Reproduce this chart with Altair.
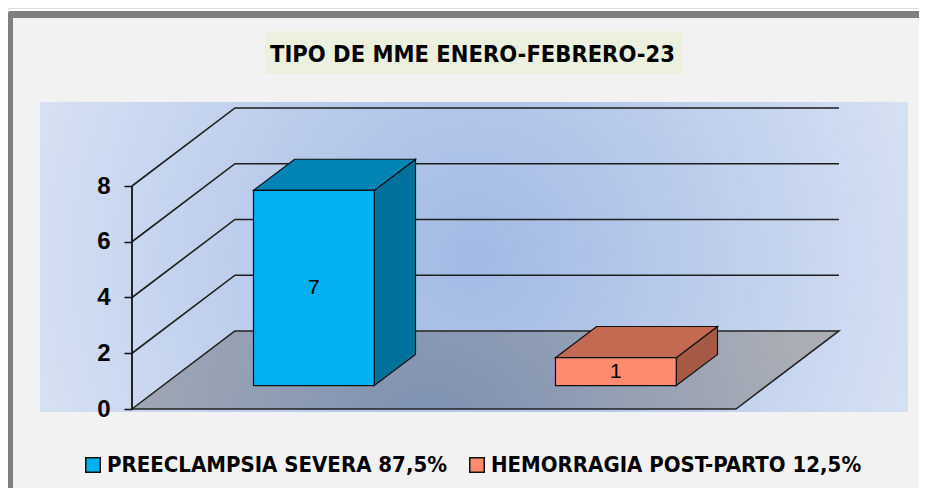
import altair as alt
import pandas as pd

# ---------------- data ----------------
categories = ["PREECLAMPSIA SEVERA 87,5%", "HEMORRAGIA POST-PARTO 12,5%"]
values = [7, 1]
value_labels = ["7", "1"]
front_colors = ["#00b0f0", "#ff8b6f"]
top_colors = ["#0085b5", "#c46a53"]
side_colors = ["#00719b", "#a65a46"]
y_ticks = [0, 2, 4, 6, 8]
grid_levels = [2, 4, 6, 8]
title_text = "TIPO DE MME ENERO-FEBRERO-23"

# ---------------- layout / projection ----------------
W, H = 911, 480
KU = 0.341      # x shift (category units) for full depth
KV = 2.80       # y shift (value units) for full depth
HALF = 0.2      # half bar width (category units)
D0, D1 = 0.3, 0.7   # bar depth span
PX_PER_UNIT = 27.875
X_DOM = [-0.4106, 2.606]
Y_DOM = [(401 - H) / PX_PER_UNIT, 401 / PX_PER_UNIT]
NARROW = "Liberation Sans Narrow, DejaVu Sans Condensed, sans-serif"

xs = alt.Scale(domain=X_DOM, nice=False, zero=False)
ys = alt.Scale(domain=Y_DOM, nice=False, zero=False)
yaxis = alt.Axis(values=y_ticks, offset=-124, domain=False, grid=False, ticks=True,
                 tickSize=8, tickColor="#111", tickWidth=1.5, labelPadding=14,
                 labelFont="Liberation Sans, Arial, sans-serif", labelFontSize=24,
                 labelFontWeight="bold", labelColor="black", title=None, zindex=1)


def X(f):
    return alt.X(f, type="quantitative", scale=xs, axis=None)


def Y(f):
    return alt.Y(f, type="quantitative", scale=ys, axis=yaxis)


# front faces
front_rows, top_rows, side_rows = [], [], []
for i, (c, v) in enumerate(zip(categories, values)):
    cx = i + 0.5
    front_rows.append(dict(cat=c, x=cx - HALF + D0 * KU, x2=cx + HALF + D0 * KU,
                           y=D0 * KV, y2=v + D0 * KV,
                           xm=cx + D0 * KU, ym=v / 2 + D0 * KV, lab=value_labels[i]))
    for d in (D0, D1):
        top_rows.append(dict(cat=c, col=top_colors[i], yy=v + d * KV,
                             x=cx - HALF + d * KU, x2=cx + HALF + d * KU))
        side_rows.append(dict(cat=c, col=side_colors[i], xx=cx + HALF + d * KU,
                              y=d * KV, y2=v + d * KV))
front = pd.DataFrame(front_rows)
top = pd.DataFrame(top_rows)
side = pd.DataFrame(side_rows)

n = len(categories)
floor = pd.DataFrame([dict(yy=0.0, x=0.0, x2=float(n)),
                      dict(yy=KV, x=KU, x2=n + KU)])

grid_rows = []
for g in grid_levels:
    grid_rows += [dict(g=g, o=0, x=0.0, y=g), dict(g=g, o=1, x=KU, y=g + KV),
                  dict(g=g, o=2, x=n + KU, y=g + KV)]
grid = pd.DataFrame(grid_rows)

axisline = pd.DataFrame([dict(x=0.0, y=min(y_ticks), y2=max(y_ticks))])

# ---------------- decoration ----------------
one = pd.DataFrame({"a": [0]})
inner = alt.Chart(one).mark_rect(color="#f2f2f2").encode(
    x=alt.value(5), x2=alt.value(W), y=alt.value(10), y2=alt.value(H))
frame_top = alt.Chart(one).mark_rect(color="#7f7f7f", cornerRadiusTopLeft=3).encode(
    x=alt.value(0), x2=alt.value(W), y=alt.value(3), y2=alt.value(10))
frame_left = alt.Chart(one).mark_rect(color="#7f7f7f", cornerRadiusTopLeft=3).encode(
    x=alt.value(0), x2=alt.value(5), y=alt.value(3), y2=alt.value(H))
plot_bg = alt.Chart(one).mark_rect(color={
    "gradient": "radial", "x1": 0.5, "y1": 0.5, "r1": 0, "x2": 0.5, "y2": 0.5, "r2": 0.62,
    "stops": [{"offset": 0, "color": "#a1b9e4"}, {"offset": 1, "color": "#dfe7f5"}]}).encode(
    x=alt.value(32), x2=alt.value(900), y=alt.value(94), y2=alt.value(404))
title_bg = alt.Chart(one).mark_rect(color="#ebf1de").encode(
    x=alt.value(257), x2=alt.value(674), y=alt.value(23), y2=alt.value(66))

# ---------------- 3D scene ----------------
floor_l = alt.Chart(floor).mark_area(orient="horizontal", stroke="#222", strokeWidth=1.5, color={
    "gradient": "radial", "x1": 0.42, "y1": 0.6, "r1": 0, "x2": 0.42, "y2": 0.6, "r2": 0.55,
    "stops": [{"offset": 0, "color": "#7c90b2"}, {"offset": 1, "color": "#abaeb5"}]}).encode(
    y=Y("yy"), x=X("x"), x2="x2")

grid_l = alt.Chart(grid).mark_line(color="#1e1e1e", strokeWidth=1.6).encode(
    x=X("x"), y=Y("y"), detail="g:N", order="o:Q")

axis_l = alt.Chart(axisline).mark_rule(color="#111", strokeWidth=1.8).encode(
    x=X("x"), y=Y("y"), y2="y2")

side_l = alt.Chart(side).mark_area(orient="vertical", stroke="#111", strokeWidth=1.2).encode(
    x=X("xx"), y=Y("y"), y2="y2", detail="cat:N", color=alt.Color("col:N", scale=None))

top_l = alt.Chart(top).mark_area(orient="horizontal", stroke="#111", strokeWidth=1.2).encode(
    y=Y("yy"), x=X("x"), x2="x2", detail="cat:N", color=alt.Color("col:N", scale=None))

front_l = alt.Chart(front).mark_rect(stroke="#111", strokeWidth=1.2, opacity=1).encode(
    x=X("x"), x2="x2", y=Y("y"), y2="y2",
    color=alt.Color("cat:N", scale=alt.Scale(domain=categories, range=front_colors),
                    legend=alt.Legend(orient="none", legendX=74, legendY=446,
                                      direction="horizontal", title=None,
                                      symbolType="square", symbolSize=210,
                                      symbolStrokeColor="black", symbolStrokeWidth=1.5,
                                      symbolOpacity=1, labelFont=NARROW, labelFontSize=22,
                                      labelFontWeight="bold", labelColor="black",
                                      labelOffset=3, columnPadding=18, padding=0,
                                      labelLimit=600, zindex=1)))

label_l = alt.Chart(front).mark_text(font="Liberation Sans", fontSize=21, color="black",
                                     baseline="middle", align="center").encode(
    x=X("xm"), y=Y("ym"), text="lab:N")

chart = alt.layer(
    inner, frame_top, frame_left, plot_bg, title_bg, floor_l, grid_l, axis_l,
    side_l, top_l, front_l, label_l
).properties(
    width=W, height=H,
    title=alt.TitleParams(title_text, anchor="middle", offset=-54, dy=23, dx=9, font=NARROW,
                          fontSize=23.5, fontWeight="bold", color="black",
                          baseline="alphabetic", zindex=1),
    padding=0,
    autosize=alt.AutoSizeParams(type="none"),
).configure_view(stroke=None).configure(background="white")

chart.save("out.html", embed_options={"renderer": "svg", "actions": False})
